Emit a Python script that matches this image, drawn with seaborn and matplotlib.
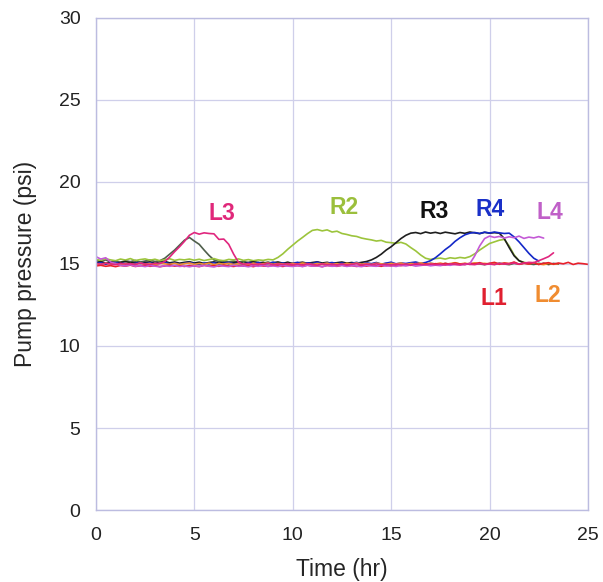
import numpy as np
import pandas as pd
import matplotlib
matplotlib.use("Agg")
import matplotlib.pyplot as plt
import seaborn as sns

# sampling times (hr), every 0.25 hr
time_full = np.round(np.arange(0, 25.001, 0.25), 2)

L1 = [14.88,14.92,14.86,14.90,14.84,14.91,14.87,14.93,14.85,14.89,
      14.92,14.86,14.90,14.84,14.88,14.93,14.87,14.90,14.85,14.91,
      14.88,14.84,14.92,14.87,14.90,14.86,14.93,14.88,14.85,14.91,
      14.87,14.90,14.84,14.92,14.88,14.86,14.91,14.89,14.85,14.92,
      14.88,14.90,14.86,14.93,14.87,14.89,14.84,14.91,14.88,14.86,
      14.92,14.88,14.90,14.85,14.91,14.87,14.93,14.89,14.86,14.92,
      14.88,14.94,14.90,14.96,14.92,14.98,14.94,15.00,14.95,15.02,
      14.97,15.04,14.98,15.06,15.00,14.96,15.05,15.00,15.08,14.98,
      15.04,15.10,14.99,15.06,15.02,15.12,14.98,15.05,15.00,15.09,
      14.97,15.04,15.08,14.99,15.06,15.01,15.10,14.97,15.05,15.02,
      14.98]

L2 = [15.02,14.97,15.05,14.99,15.03,14.96,15.04,15.00,14.97,15.06,
      14.99,15.03,14.96,15.05,15.01,14.98,15.04,14.97,15.02,15.06,
      14.98,15.03,14.99,15.05,14.96,15.02,15.00,15.04,14.97,15.03,
      15.01,14.96,15.05,14.99,15.02,15.06,14.98,15.03,15.00,14.97,
      15.04,14.99,15.06,15.01,14.97,15.03,15.00,15.05,14.98,15.02,
      14.96,15.04,15.00,15.06,14.99,15.03,14.97,15.05,15.01,14.98,
      15.04,15.00,15.06,14.97,15.03,15.01,15.07,14.99,15.04,15.00,
      15.06,14.98,15.03,15.08,15.00,15.05,14.99,15.07,15.02,15.04,
      15.00,15.06,14.98,15.05,15.02,15.08,14.99,15.04,15.01,15.06,
      15.00,14.96,15.03,14.98,15.02]

L3 = [15.03,14.98,15.05,15.00,14.96,15.04,14.99,15.02,14.97,15.05,
      15.00,14.97,15.04,15.02,15.15,15.42,15.75,16.05,16.38,16.75,
      16.92,16.82,16.90,16.86,16.84,16.50,16.52,16.20,15.60,15.10,
      14.98,15.03,14.96,15.01,14.97,15.04,14.95,15.00,14.97,15.03,
      14.96,15.00,14.94,15.02,14.97,14.93,15.01,14.96,14.99,14.94,
      15.00,14.95,14.98,15.02,14.94,14.99,14.96,15.01,14.95,14.98,
      14.94,15.00,14.96,14.99,14.93,15.02,14.97,14.95,15.00,14.96,
      14.99,14.94,15.01,14.97,14.95,15.02,14.98,14.96,15.03,14.97,
      15.00,14.96,15.04,14.99,15.02,15.06,15.00,15.05,15.10,15.08,
      15.20,15.32,15.45,15.68]

L4 = [15.45,15.30,15.38,15.12,15.02,14.92,14.88,14.95,14.86,14.90,
      14.84,14.91,14.87,14.83,14.90,14.86,14.92,14.85,14.88,14.83,
      14.89,14.85,14.91,14.86,14.82,14.90,14.87,14.84,14.92,14.86,
      14.88,14.83,14.90,14.86,14.92,14.85,14.89,14.84,14.91,14.87,
      14.85,14.90,14.84,14.92,14.87,14.89,14.83,14.91,14.86,14.88,
      14.92,14.85,14.90,14.87,14.84,14.91,14.88,14.86,14.93,14.87,
      14.90,14.85,14.92,14.88,14.94,14.87,14.91,14.95,14.89,14.93,
      14.90,14.96,14.92,14.98,14.94,14.97,15.02,15.50,16.10,16.55,
      16.70,16.62,16.68,16.58,16.66,16.60,16.70,16.56,16.64,16.59,
      16.67,16.58]

R1 = [15.22,15.15,15.25,15.12,15.18,15.10,15.20,15.14,15.22,15.12,
      15.18,15.24,15.15,15.20,15.35,15.60,15.85,16.15,16.45,16.62,
      16.40,16.20,15.85,15.52,15.25,15.15,15.20,15.12,15.18,15.10,
      15.16,15.08,15.14,15.10,15.05,15.12,15.02,15.09,15.04,15.11,
      15.03,15.08,15.00,15.06,15.02,15.09,14.98,15.05,15.01,15.07,
      14.99,15.04,15.00,15.06,14.97,15.03,15.00,15.05,14.98,15.04,
      15.01,14.96,15.03,14.99,15.05,14.97,15.02,14.98,15.04,15.00,
      14.96,15.03,14.99,15.05,14.97,15.02,14.98,15.04,15.00,14.96,
      15.03,14.98,15.05,15.00,14.96,15.04,14.99,15.06,15.01,14.97,
      15.04,14.99,15.02]

R2 = [15.28,15.22,15.32,15.25,15.20,15.30,15.24,15.33,15.21,15.27,
      15.31,15.23,15.29,15.20,15.26,15.32,15.22,15.28,15.25,15.30,
      15.23,15.29,15.21,15.27,15.33,15.24,15.20,15.28,15.25,15.31,
      15.22,15.27,15.20,15.25,15.22,15.28,15.25,15.40,15.62,15.90,
      16.15,16.40,16.62,16.85,17.05,17.10,17.02,17.08,16.95,17.00,
      16.86,16.80,16.72,16.68,16.58,16.52,16.47,16.40,16.44,16.33,
      16.30,16.26,16.32,16.22,16.00,15.80,15.55,15.35,15.28,15.33,
      15.36,15.30,15.38,15.34,15.40,15.36,15.45,15.62,15.85,16.05,
      16.25,16.35,16.45,16.50,16.10,15.55,15.20,15.10,15.05]

R3 = [15.08,15.14,15.05,15.12,15.02,15.10,15.15,15.06,15.11,15.03,
      15.09,15.13,15.04,15.10,15.16,15.07,15.12,15.05,15.10,15.14,
      15.06,15.11,15.03,15.09,15.13,15.05,15.10,15.02,15.08,15.12,
      15.04,15.09,15.13,15.06,15.10,15.03,15.08,15.12,15.05,15.09,
      15.02,15.07,15.11,15.04,15.09,15.13,15.06,15.10,15.03,15.08,
      15.12,15.05,15.09,15.04,15.10,15.15,15.25,15.40,15.60,15.85,
      16.05,16.30,16.55,16.75,16.88,16.92,16.85,16.95,16.88,16.93,
      16.86,16.94,16.89,16.84,16.92,16.87,16.95,16.90,16.85,16.93,
      16.88,16.91,16.88,16.55,16.00,15.50,15.20,15.08,15.02,15.06,
      14.98,15.04,14.97,15.03,15.00]

R4 = [15.02,15.08,14.98,15.05,15.10,15.00,15.06,14.97,15.04,15.09,
      15.01,15.07,14.99,15.05,15.11,15.00,15.06,14.98,15.04,15.10,
      15.02,14.97,15.06,15.01,15.08,14.99,15.04,15.10,15.00,15.05,
      14.98,15.07,15.02,15.09,14.99,15.04,15.11,15.01,15.06,14.98,
      15.05,15.10,15.00,15.07,15.02,15.12,14.99,15.05,15.09,15.01,
      15.06,14.98,15.04,15.10,15.00,15.07,15.02,15.09,14.99,15.05,
      15.11,15.01,15.06,15.03,15.08,15.12,15.04,15.09,15.20,15.38,
      15.62,15.88,16.10,16.38,16.60,16.78,16.88,16.92,16.86,16.94,
      16.89,16.95,16.90,16.86,16.88,16.65,16.35,16.00,15.65,15.35,
      15.18]

series = {"R1": R1, "R2": R2, "R3": R3, "R4": R4,
          "L2": L2, "L1": L1, "L4": L4, "L3": L3}
colors = {"R1": "#4f5f4c", "R2": "#9cc43c", "R3": "#1e1e1e", "R4": "#1428c8",
          "L2": "#f0902c", "L1": "#e8202a", "L4": "#c45ad6", "L3": "#e0267e"}

labels = ["L3", "R2", "R3", "R4", "L4", "L1", "L2"]
label_x = [6.4, 12.6, 17.2, 20.05, 23.05, 20.2, 22.95]
label_y = [18.1, 18.45, 18.2, 18.3, 18.15, 12.9, 13.05]
label_colors = ["#e0287a", "#9bbf3c", "#111111", "#1a30c8", "#c060c8", "#e02030", "#f08c30"]

rows = []
for name, vals in series.items():
    for t, v in zip(time_full[:len(vals)], vals):
        rows.append((name, t, v))
df = pd.DataFrame(rows, columns=["series", "time", "pressure"])

sns.set_style("white")
plt.rcParams["font.family"] = ["Liberation Sans", "DejaVu Sans"]

fig = plt.figure(figsize=(6.03, 5.82), dpi=100)
ax = fig.add_axes([0.159, 0.1237, 0.816, 0.8454])

sns.lineplot(data=df, x="time", y="pressure", hue="series",
             hue_order=list(series.keys()), palette=colors,
             estimator=None, linewidth=1.2, legend=False, ax=ax)

for lab, x, y, c in zip(labels, label_x, label_y, label_colors):
    ax.text(x, y, lab, color=c, fontsize=16.5, fontweight="bold",
            ha="center", va="center")

ax.set_xlim(0, 25)
ax.set_ylim(0, 30)
ax.set_xticks([0, 5, 10, 15, 20, 25])
ax.set_yticks([0, 5, 10, 15, 20, 25, 30])
ax.grid(True, color="#cfcfea", linewidth=0.9)
ax.set_axisbelow(True)
for s in ax.spines.values():
    s.set_color("#bcbce0")
    s.set_linewidth(1.0)
ax.tick_params(length=0, labelsize=14, colors="#222222")
ax.tick_params(axis="x", pad=12)
ax.tick_params(axis="y", pad=11)
ax.set_xlabel("Time (hr)", fontsize=16.5, labelpad=10)
ax.set_ylabel("Pump pressure (psi)", fontsize=16.5, labelpad=16)

fig.savefig("out.png", dpi=100)
